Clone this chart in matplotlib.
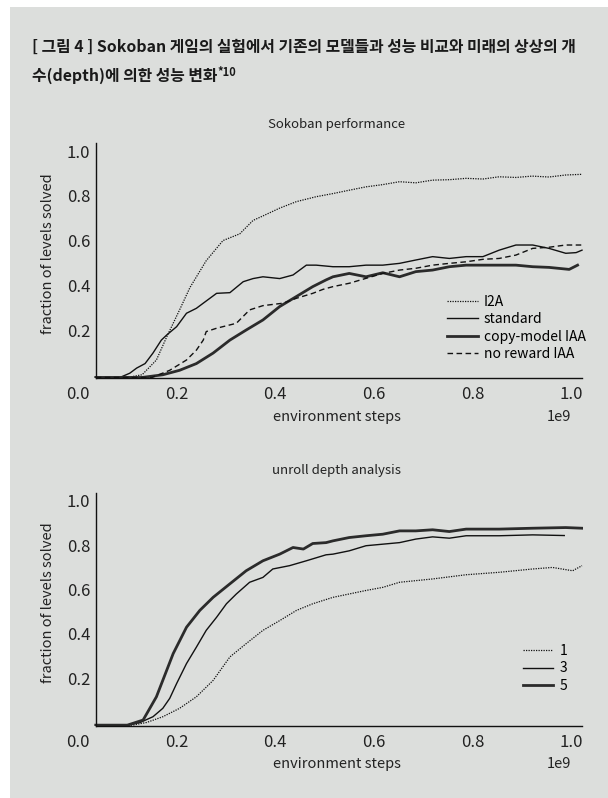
import numpy as np
import matplotlib
matplotlib.use("Agg")
import matplotlib.pyplot as plt
from matplotlib.patches import Rectangle

plt.rcParams['font.family'] = ['Noto Sans CJK KR', 'DejaVu Sans']

# Sokoban performance (x in units of 1e9 environment steps)
i2a_x = [0.036, 0.10, 0.13, 0.159, 0.18, 0.206, 0.227, 0.26, 0.294, 0.328, 0.355, 0.375, 0.409,
         0.443, 0.483, 0.517, 0.55, 0.584, 0.618, 0.652, 0.685, 0.719, 0.753, 0.787, 0.821,
         0.854, 0.888, 0.921, 0.955, 0.989, 1.022]
i2a_y = [-0.012, -0.012, 0.0, 0.066, 0.17, 0.29, 0.39, 0.51, 0.60, 0.63, 0.69, 0.71, 0.745,
         0.774, 0.796, 0.81, 0.825, 0.84, 0.85, 0.863, 0.858, 0.87, 0.872, 0.878, 0.875,
         0.885, 0.882, 0.888, 0.884, 0.893, 0.896]

standard_x = [0.036, 0.085, 0.105, 0.119, 0.136, 0.152, 0.169, 0.18, 0.2, 0.22, 0.24, 0.254,
              0.281, 0.308, 0.335, 0.355, 0.375, 0.409, 0.436, 0.463, 0.483, 0.517, 0.55,
              0.584, 0.618, 0.652, 0.685, 0.719, 0.753, 0.787, 0.821, 0.854, 0.888, 0.922,
              0.955, 0.989, 1.01, 1.022]
standard_y = [-0.012, -0.012, 0.007, 0.03, 0.05, 0.097, 0.155, 0.178, 0.215, 0.275, 0.297, 0.32,
              0.364, 0.367, 0.416, 0.43, 0.438, 0.43, 0.446, 0.49, 0.49, 0.483, 0.483,
              0.49, 0.49, 0.498, 0.513, 0.528, 0.52, 0.528, 0.528, 0.557, 0.58, 0.58,
              0.565, 0.543, 0.546, 0.557]

copy_x = [0.036, 0.13, 0.172, 0.206, 0.24, 0.274, 0.308, 0.341, 0.375, 0.409, 0.443, 0.476,
          0.503, 0.517, 0.55, 0.584, 0.618, 0.652, 0.685, 0.719, 0.753, 0.787, 0.821, 0.854,
          0.888, 0.922, 0.955, 0.996, 1.013]
copy_y = [-0.012, -0.012, 0.0, 0.02, 0.05, 0.097, 0.155, 0.2, 0.245, 0.305, 0.35, 0.394,
          0.424, 0.438, 0.453, 0.438, 0.456, 0.438, 0.461, 0.468, 0.483, 0.49, 0.49, 0.49,
          0.49, 0.483, 0.48, 0.471, 0.49]

noreward_x = [0.036, 0.15, 0.186, 0.22, 0.24, 0.254, 0.26, 0.281, 0.321, 0.348, 0.375, 0.416,
              0.443, 0.476, 0.497, 0.517, 0.55, 0.584, 0.618, 0.652, 0.685, 0.719, 0.753,
              0.787, 0.821, 0.854, 0.888, 0.922, 0.955, 0.989, 1.022]
noreward_y = [-0.012, -0.012, 0.02, 0.066, 0.11, 0.155, 0.193, 0.208, 0.23, 0.29, 0.309, 0.32,
              0.342, 0.364, 0.382, 0.394, 0.409, 0.431, 0.453, 0.468, 0.476, 0.49, 0.498,
              0.505, 0.516, 0.52, 0.535, 0.565, 0.57, 0.58, 0.58]

# unroll depth analysis
d5_x = [0.036, 0.1, 0.132, 0.159, 0.193, 0.22, 0.247, 0.274, 0.308, 0.341, 0.375, 0.409,
        0.436, 0.457, 0.476, 0.503, 0.517, 0.55, 0.584, 0.618, 0.652, 0.685, 0.719, 0.753,
        0.787, 0.854, 0.922, 0.989, 1.022]
d5_y = [-0.012, -0.012, 0.011, 0.116, 0.311, 0.43, 0.506, 0.565, 0.626, 0.685, 0.73, 0.76,
        0.79, 0.783, 0.808, 0.812, 0.82, 0.835, 0.843, 0.85, 0.865, 0.865, 0.87, 0.862,
        0.873, 0.873, 0.877, 0.88, 0.877]

d3_x = [0.036, 0.1, 0.126, 0.152, 0.172, 0.186, 0.2, 0.22, 0.24, 0.26, 0.281, 0.301, 0.321,
        0.348, 0.375, 0.395, 0.429, 0.463, 0.503, 0.517, 0.55, 0.584, 0.618, 0.652, 0.685,
        0.719, 0.753, 0.787, 0.854, 0.922, 0.986]
d3_y = [-0.012, -0.012, 0.0, 0.026, 0.064, 0.109, 0.176, 0.266, 0.34, 0.416, 0.475, 0.536, 0.58,
        0.633, 0.655, 0.693, 0.708, 0.73, 0.757, 0.76, 0.775, 0.798, 0.805, 0.812, 0.828,
        0.838, 0.832, 0.843, 0.843, 0.847, 0.844]

d1_x = [0.036, 0.11, 0.139, 0.172, 0.206, 0.24, 0.274, 0.308, 0.341, 0.375, 0.409, 0.443,
        0.476, 0.517, 0.584, 0.618, 0.652, 0.719, 0.787, 0.854, 0.922, 0.962, 1.003, 1.022]
d1_y = [-0.012, -0.012, 0.0, 0.026, 0.064, 0.116, 0.19, 0.296, 0.356, 0.416, 0.46, 0.506,
        0.536, 0.565, 0.596, 0.61, 0.633, 0.648, 0.667, 0.678, 0.693, 0.7, 0.685, 0.708]

x_ticks = [0.0, 0.2, 0.4, 0.6, 0.8, 1.0]
y_ticks = [0.2, 0.4, 0.6, 0.8, 1.0]

bg = '#dcdedc'
ink = '#111111'

fig = plt.figure(figsize=(6.08, 7.98), dpi=100, facecolor='white')
fig.patches.append(Rectangle((10 / 608, 0), 1, 1 - 7 / 798, transform=fig.transFigure,
                             facecolor=bg, edgecolor='none', zorder=-10))


def style_axes(ax, title, title_pad):
    ax.set_facecolor('none')
    ax.set_xlim(0, 1.024)
    ax.set_ylim(-0.0145, 1.036)
    for s in ['top', 'right']:
        ax.spines[s].set_visible(False)
    ax.spines['left'].set_position(('data', 0.036))
    ax.spines['bottom'].set_bounds(0.036, 1.022)
    for s in ['left', 'bottom']:
        ax.spines[s].set_linewidth(1.0)
        ax.spines[s].set_color(ink)
    ax.set_xticks(x_ticks)
    ax.set_xticklabels(['%.1f' % v for v in x_ticks])
    ax.set_yticks(y_ticks)
    ax.set_yticklabels(['%.1f' % v for v in y_ticks])
    ax.tick_params(axis='both', length=0, labelsize=12, colors='#222222')
    ax.tick_params(axis='y', pad=4)
    ax.tick_params(axis='x', pad=6)
    ax.set_xlabel('environment steps', fontsize=10.5, color='#222222')
    ax.xaxis.set_label_coords(0.513, -0.135)
    ax.set_ylabel('fraction of levels solved', fontsize=10.5, color='#222222')
    ax.yaxis.set_label_coords(-0.045, 0.53)
    ax.text(0.953, -0.135, '1e9', transform=ax.transAxes, fontsize=10.5, color='#222222',
            ha='center', va='top')
    ax.set_title(title, fontsize=9.5, color='#222222', pad=title_pad)
    ax.title.set_x(0.511)


ax1 = fig.add_axes([78 / 608, 0.5263, 505 / 608, 0.2945])
ax1.plot(i2a_x, i2a_y, color=ink, lw=0.9, ls=(0, (1, 1)), label='I2A')
ax1.plot(standard_x, standard_y, color=ink, lw=1.0, label='standard')
ax1.plot(copy_x, copy_y, color='#2b2b2b', lw=2.0, label='copy-model IAA')
ax1.plot(noreward_x, noreward_y, color=ink, lw=1.0, ls=(0, (4, 2.5)), label='no reward IAA')
style_axes(ax1, 'Sokoban performance', 11)
ax1.legend(loc='center left', bbox_to_anchor=(0.731, 0.213), frameon=False, fontsize=10,
           handlelength=2.2, handletextpad=0.45, labelspacing=0.25, borderpad=0,
           borderaxespad=0)

ax2 = fig.add_axes([78 / 608, 0.0906, 505 / 608, 0.2916])
ax2.plot(d1_x, d1_y, color=ink, lw=0.9, ls=(0, (1, 1)), label='1')
ax2.plot(d3_x, d3_y, color=ink, lw=1.0, label='3')
ax2.plot(d5_x, d5_y, color='#2b2b2b', lw=2.0, label='5')
style_axes(ax2, 'unroll depth analysis', 14)
ax2.legend(loc='center left', bbox_to_anchor=(0.881, 0.246), frameon=False, fontsize=10,
           handlelength=2.2, handletextpad=0.45, labelspacing=0.25, borderpad=0,
           borderaxespad=0)

# figure title
fig.text(32 / 608, 1 - 47 / 798,
         '[ 그림 4 ] Sokoban 게임의 실험에서 기존의 모델들과 성능 비교와 미래의 상상의 개',
         fontsize=11.4, fontweight='bold', va='center', ha='left', color='#1a1a1a')
t2 = fig.text(32 / 608, 1 - 76 / 798, '수(depth)에 의한 성능 변화',
              fontsize=11.4, fontweight='bold', va='center', ha='left', color='#1a1a1a')
ax1.annotate('*10', xy=(1, 1), xycoords=t2, xytext=(0.3, 1.5), textcoords='offset points',
             fontsize=8, fontweight='bold', va='top', ha='left', color='#1a1a1a',
             annotation_clip=False)

fig.savefig('out.png', dpi=100, facecolor=fig.get_facecolor())
